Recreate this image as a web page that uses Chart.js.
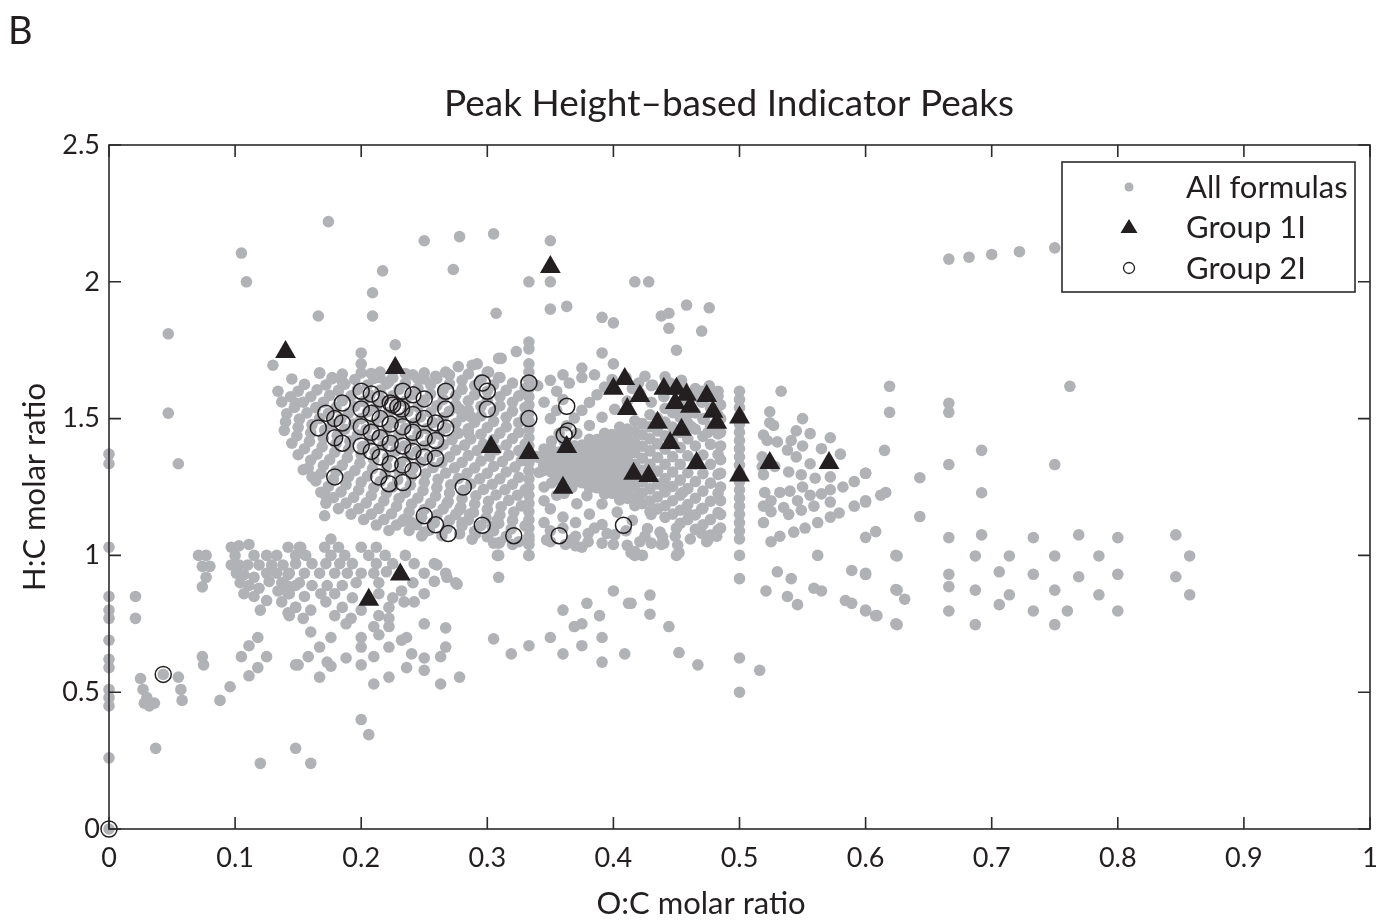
<!DOCTYPE html>
<html>
<head>
<meta charset="utf-8">
<script src="https://cdn.jsdelivr.net/npm/chart.js@4.4.1/dist/chart.umd.min.js"></script>
<style>
  html, body { margin: 0; padding: 0; background: #ffffff; }
</style>
</head>
<body>
<canvas id="vk-canvas" width="1382" height="924"></canvas>
<script>
    // Van Krevelen style plot: O:C vs H:C
    let chart_title = 'Peak Height\u2013based Indicator Peaks';
    let panel_letter = 'B';
    let x_label = 'O:C molar ratio';
    let y_label = 'H:C molar ratio';
    let x_ticks = [0, 0.1, 0.2, 0.3, 0.4, 0.5, 0.6, 0.7, 0.8, 0.9, 1];
    let y_ticks = [0, 0.5, 1, 1.5, 2, 2.5];
    let series_names = ['All formulas', 'Group 1I', 'Group 2I'];

    // All formulas (grey) as [O:C, H:C]
    let all_formulas = [
      // on the y axis and far left
      [0,1.37],[0,1.335],[0,1.03],[0,0.85],[0,0.80],[0,0.77],[0,0.69],[0,0.62],[0,0.59],[0,0.51],[0,0.48],[0,0.45],[0,0.26],[0,0],
      [0.021,0.85],[0.021,0.77],[0.025,0.55],[0.027,0.51],[0.03,0.48],[0.028,0.46],[0.032,0.45],[0.036,0.46],[0.043,0.565],
      [0.055,0.555],[0.057,0.51],[0.058,0.47],[0.074,0.63],[0.075,0.60],[0.088,0.47],[0.096,0.52],[0.105,0.63],[0.111,0.67],
      [0.118,0.70],[0.111,0.56],[0.118,0.59],[0.125,0.63],[0.037,0.295],[0.12,0.24],[0.148,0.295],[0.148,0.60],[0.16,0.24],
      [0.071,1.0],[0.077,1.0],[0.074,0.96],[0.08,0.96],[0.077,0.92],[0.074,0.885],
      [0.047,1.81],[0.047,1.52],[0.055,1.335],
      // lower left cluster
      [0.097,1.03],[0.103,1.035],[0.111,1.04],[0.097,0.965],[0.1,1.0],[0.103,0.965],[0.115,1.0],[0.11,0.965],[0.101,0.935],
      [0.107,0.93],[0.115,0.92],[0.104,0.9],[0.111,0.89],[0.119,0.88],[0.107,0.86],[0.115,0.85],[0.125,0.835],[0.12,0.80],
      [0.125,1.0],[0.133,1.0],[0.119,0.965],[0.129,0.965],[0.138,0.965],[0.125,0.935],[0.133,0.935],[0.142,0.93],[0.127,0.905],
      [0.137,0.9],[0.148,0.89],[0.134,0.87],[0.142,0.86],[0.137,0.83],[0.142,0.79],[0.148,0.81],[0.142,1.03],[0.151,1.03],[0.148,1.0],
      [0.152,1.03],[0.176,1.06],[0.171,1.03],[0.182,1.03],[0.2,1.03],[0.212,1.03],
      [0.156,1.0],[0.176,1.0],[0.187,1.0],[0.206,1.0],[0.219,1.0],[0.235,1.0],
      [0.148,0.97],[0.161,0.97],[0.172,0.97],[0.183,0.97],[0.193,0.97],[0.212,0.97],[0.225,0.97],[0.242,0.97],[0.258,0.97],
      [0.143,0.935],[0.155,0.935],[0.167,0.935],[0.179,0.935],[0.189,0.935],[0.2,0.935],[0.21,0.935],[0.22,0.94],[0.25,0.935],
      [0.267,0.935],[0.275,0.9],[0.141,0.89],[0.151,0.9],[0.161,0.89],[0.173,0.89],[0.185,0.89],[0.196,0.9],[0.214,0.9],[0.241,0.9],
      [0.258,0.905],[0.143,0.86],[0.155,0.85],[0.168,0.86],[0.179,0.86],[0.193,0.845],[0.214,0.86],[0.225,0.845],[0.232,0.87],
      [0.25,0.86],[0.148,0.81],[0.16,0.80],[0.172,0.83],[0.185,0.81],[0.2,0.80],[0.222,0.81],[0.234,0.83],[0.242,0.83],
      [0.143,0.78],[0.154,0.77],[0.179,0.78],[0.192,0.77],[0.214,0.78],[0.222,0.77],[0.276,0.895],[0.268,0.92],[0.26,0.965],
      [0.16,0.72],[0.176,0.70],[0.188,0.75],[0.2,0.70],[0.21,0.74],[0.214,0.71],[0.222,0.74],[0.232,0.69],[0.236,0.70],
      [0.25,0.75],[0.267,0.735],[0.167,0.665],[0.2,0.665],[0.222,0.665],[0.267,0.665],[0.158,0.63],[0.173,0.61],[0.188,0.625],
      [0.21,0.63],[0.24,0.64],[0.25,0.625],[0.263,0.63],[0.15,0.60],[0.176,0.595],[0.2,0.60],[0.236,0.59],[0.25,0.58],
      [0.167,0.555],[0.222,0.555],[0.278,0.555],[0.21,0.53],[0.263,0.53],[0.2,0.40],[0.206,0.345],
      // sparse points above the main cloud
      [0.174,2.22],[0.105,2.105],[0.109,2.0],[0.25,2.15],[0.278,2.165],[0.305,2.175],[0.217,2.04],[0.273,2.045],[0.209,1.96],
      [0.209,1.875],[0.166,1.875],[0.307,1.885],[0.227,1.77],[0.13,1.695],[0.134,1.60],[0.148,1.557],
      [0.35,2.15],[0.333,2.0],[0.35,2.0],[0.35,1.90],[0.363,1.91],[0.391,1.87],[0.40,1.85],[0.417,2.0],[0.428,2.0],
      [0.438,1.875],[0.444,1.885],[0.458,1.915],[0.476,1.905],[0.444,1.83],[0.47,1.82],[0.45,1.75],[0.391,1.74],[0.40,1.70],
      [0.375,1.685],[0.333,1.755],[0.333,1.78],[0.323,1.745],[0.311,1.72],[0.292,1.70],[0.2,1.74],[0.2,1.70],[0.309,1.72],
      [0.454,1.64],[0.476,1.62],[0.533,1.60],
      // left wing of the main cloud
      [0.167,1.667],[0.177,1.65],[0.185,1.635],[0.208,1.665],[0.215,1.65],[0.222,1.635],[0.241,1.66],[0.25,1.645],[0.259,1.655],
      [0.267,1.67],[0.277,1.69],[0.288,1.695],[0.301,1.67],[0.309,1.65],[0.278,1.535],[0.287,1.507],[0.285,1.447],
      [0.30,1.67],[0.31,1.65],[0.32,1.63],[0.33,1.61],
      [0.285,1.663],[0.295,1.643],[0.305,1.623],[0.315,1.603],[0.325,1.583],
      [0.27,1.66],[0.28,1.64],[0.29,1.62],[0.30,1.60],[0.31,1.58],[0.32,1.56],[0.33,1.54],
      [0.25,1.667],[0.26,1.647],[0.27,1.627],[0.28,1.607],[0.29,1.587],[0.30,1.567],[0.31,1.547],[0.32,1.527],[0.33,1.507],
      [0.235,1.665],[0.245,1.645],[0.255,1.625],[0.265,1.605],[0.275,1.585],[0.285,1.565],[0.295,1.545],[0.305,1.525],[0.315,1.505],[0.325,1.485],
      [0.215,1.67],[0.225,1.65],[0.235,1.63],[0.245,1.61],[0.255,1.59],[0.265,1.57],[0.275,1.55],[0.285,1.53],[0.295,1.51],
      [0.305,1.49],[0.315,1.47],[0.325,1.45],
      [0.20,1.667],[0.21,1.647],[0.22,1.627],[0.23,1.607],[0.24,1.587],[0.25,1.567],[0.26,1.547],[0.27,1.527],[0.28,1.507],[0.29,1.487],
      [0.30,1.467],[0.31,1.447],[0.32,1.427],[0.33,1.407],
      [0.185,1.663],[0.195,1.643],[0.205,1.623],[0.215,1.603],[0.225,1.583],[0.235,1.563],[0.245,1.543],[0.255,1.523],[0.265,1.503],
      [0.275,1.483],[0.285,1.463],[0.295,1.443],[0.305,1.423],[0.315,1.403],[0.325,1.383],
      [0.167,1.666],[0.177,1.646],[0.187,1.626],[0.197,1.606],[0.207,1.586],[0.217,1.566],[0.227,1.546],[0.237,1.526],[0.247,1.506],
      [0.257,1.486],[0.267,1.466],[0.277,1.446],[0.287,1.426],[0.297,1.406],[0.307,1.386],[0.317,1.366],[0.327,1.346],
      [0.172,1.623],[0.182,1.603],[0.192,1.583],[0.202,1.563],[0.212,1.543],[0.222,1.523],[0.232,1.503],[0.242,1.483],[0.252,1.463],
      [0.262,1.443],[0.272,1.423],[0.282,1.403],[0.292,1.383],[0.302,1.363],[0.312,1.343],[0.322,1.323],
      [0.145,1.645],[0.155,1.625],[0.165,1.605],[0.175,1.585],[0.185,1.565],[0.195,1.545],[0.205,1.525],[0.215,1.505],[0.225,1.485],
      [0.235,1.465],[0.245,1.445],[0.255,1.425],[0.265,1.405],[0.275,1.385],[0.285,1.365],[0.295,1.345],[0.305,1.325],[0.315,1.305],[0.325,1.285],
      [0.15,1.60],[0.16,1.58],[0.17,1.56],[0.18,1.54],[0.19,1.52],[0.20,1.50],[0.21,1.48],[0.22,1.46],[0.23,1.44],[0.24,1.42],
      [0.25,1.40],[0.26,1.38],[0.27,1.36],[0.28,1.34],[0.29,1.32],[0.30,1.30],[0.31,1.28],[0.32,1.26],[0.33,1.24],
      [0.144,1.58],[0.154,1.56],[0.164,1.54],[0.174,1.52],[0.184,1.50],[0.194,1.48],[0.204,1.46],[0.214,1.44],[0.224,1.42],
      [0.234,1.40],[0.244,1.38],[0.254,1.36],[0.264,1.34],[0.274,1.32],[0.284,1.30],[0.294,1.28],[0.304,1.26],[0.314,1.24],[0.324,1.22],
      [0.137,1.561],[0.147,1.541],[0.157,1.521],[0.167,1.501],[0.177,1.481],[0.187,1.461],[0.197,1.441],[0.207,1.421],[0.217,1.401],
      [0.227,1.381],[0.237,1.361],[0.247,1.341],[0.257,1.321],[0.267,1.301],[0.277,1.281],[0.287,1.261],[0.297,1.241],[0.307,1.221],
      [0.317,1.201],[0.327,1.181],
      [0.141,1.518],[0.151,1.498],[0.161,1.478],[0.171,1.458],[0.181,1.438],[0.191,1.418],[0.201,1.398],[0.211,1.378],[0.221,1.358],
      [0.231,1.338],[0.241,1.318],[0.251,1.298],[0.261,1.278],[0.271,1.258],[0.281,1.238],[0.291,1.218],[0.301,1.198],[0.311,1.178],[0.321,1.158],
      [0.14,1.488],[0.15,1.468],[0.16,1.448],[0.17,1.428],[0.18,1.408],[0.19,1.388],[0.20,1.368],[0.21,1.348],[0.22,1.328],
      [0.23,1.308],[0.24,1.288],[0.25,1.268],[0.26,1.248],[0.27,1.228],[0.28,1.208],[0.29,1.188],[0.30,1.168],[0.31,1.148],
      [0.32,1.128],[0.33,1.108],
      [0.139,1.457],[0.149,1.437],[0.159,1.417],[0.169,1.397],[0.179,1.377],[0.189,1.357],[0.199,1.337],[0.209,1.317],[0.219,1.297],
      [0.229,1.277],[0.239,1.257],[0.249,1.237],[0.259,1.217],[0.269,1.197],[0.279,1.177],[0.289,1.157],[0.299,1.137],[0.309,1.117],[0.319,1.097],
      [0.145,1.41],[0.155,1.39],[0.165,1.37],[0.175,1.35],[0.185,1.33],[0.195,1.31],[0.205,1.29],[0.215,1.27],[0.225,1.25],
      [0.235,1.23],[0.245,1.21],[0.255,1.19],[0.265,1.17],[0.275,1.15],[0.285,1.13],[0.295,1.11],[0.305,1.09],[0.315,1.07],[0.325,1.05],
      [0.150,1.368],[0.160,1.348],[0.170,1.328],[0.180,1.308],[0.190,1.288],[0.200,1.268],[0.210,1.248],[0.220,1.228],[0.230,1.208],
      [0.240,1.188],[0.250,1.168],[0.260,1.148],[0.270,1.128],[0.280,1.108],[0.290,1.088],[0.300,1.068],[0.310,1.048],
      [0.158,1.319],[0.168,1.299],[0.178,1.279],[0.188,1.259],[0.198,1.239],[0.208,1.219],[0.218,1.199],[0.228,1.179],[0.238,1.159],
      [0.248,1.139],[0.258,1.119],[0.268,1.099],[0.278,1.079],[0.288,1.059],
      [0.154,1.313],[0.161,1.287],[0.164,1.272],[0.174,1.252],[0.184,1.232],[0.194,1.212],[0.204,1.192],[0.214,1.172],[0.224,1.152],
      [0.234,1.132],[0.244,1.112],[0.254,1.092],[0.264,1.072],
      [0.168,1.231],[0.178,1.211],[0.188,1.191],[0.198,1.171],[0.208,1.151],[0.218,1.131],[0.228,1.111],[0.238,1.091],[0.248,1.071],
      [0.172,1.191],[0.182,1.171],[0.192,1.151],[0.202,1.131],[0.212,1.111],[0.222,1.091],[0.171,1.145],[0.172,1.218],
      [0.25,1.085],[0.233,1.125],[0.268,1.19],[0.278,1.167],[0.286,1.15],[0.304,1.105],[0.309,1.045],[0.308,1.13],
      [0.291,1.08],[0.305,1.045],[0.28,1.12],[0.24,1.12],
      // column at O:C = 1/3
      [0.333,1.70],[0.333,1.67],[0.333,1.64],[0.333,1.61],[0.333,1.58],[0.333,1.55],[0.333,1.52],[0.333,1.49],[0.333,1.46],
      [0.333,1.43],[0.333,1.40],[0.333,1.37],[0.333,1.34],[0.333,1.31],[0.333,1.28],[0.333,1.25],[0.333,1.22],[0.333,1.19],
      [0.333,1.16],[0.333,1.13],[0.333,1.10],[0.333,1.07],[0.333,1.04],[0.333,1.0],
      // right wing of the main cloud
      [0.345,1.356],[0.357,1.378],[0.369,1.401],[0.381,1.424],[0.393,1.446],[0.405,1.469],[0.417,1.492],[0.429,1.514],[0.441,1.537],[0.453,1.56],[0.465,1.582],[0.477,1.605],
      [0.351,1.363],[0.363,1.383],[0.375,1.403],[0.387,1.423],[0.399,1.442],[0.411,1.462],[0.423,1.482],[0.435,1.502],[0.447,1.522],[0.459,1.542],[0.471,1.562],[0.483,1.582],
      [0.345,1.35],[0.357,1.367],[0.369,1.384],[0.381,1.402],[0.393,1.419],[0.405,1.436],[0.417,1.453],[0.429,1.47],[0.441,1.487],[0.453,1.504],[0.465,1.521],[0.477,1.539],
      [0.351,1.355],[0.363,1.369],[0.375,1.383],[0.387,1.398],[0.399,1.412],[0.411,1.426],[0.423,1.441],[0.435,1.455],[0.447,1.469],[0.459,1.484],[0.471,1.498],[0.483,1.513],
      [0.345,1.345],[0.357,1.356],[0.369,1.368],[0.381,1.379],[0.393,1.391],[0.405,1.403],[0.417,1.414],[0.429,1.426],[0.441,1.437],[0.453,1.449],[0.465,1.461],[0.477,1.472],
      [0.351,1.346],[0.363,1.355],[0.375,1.364],[0.387,1.373],[0.399,1.382],[0.411,1.39],[0.423,1.399],[0.435,1.408],[0.447,1.417],[0.459,1.426],[0.471,1.435],[0.483,1.444],
      [0.345,1.339],[0.357,1.345],[0.369,1.351],[0.381,1.357],[0.393,1.363],[0.405,1.37],[0.417,1.376],[0.429,1.382],[0.441,1.388],[0.453,1.394],[0.465,1.40],[0.477,1.406],
      [0.351,1.337],[0.363,1.34],[0.375,1.343],[0.387,1.346],[0.399,1.349],[0.411,1.352],[0.423,1.355],[0.435,1.358],[0.447,1.361],[0.459,1.364],[0.471,1.367],[0.483,1.369],
      [0.345,1.333],[0.357,1.333],[0.369,1.333],[0.381,1.333],[0.393,1.333],[0.405,1.333],[0.417,1.333],[0.429,1.333],[0.441,1.333],[0.453,1.333],[0.465,1.333],[0.477,1.333],
      [0.351,1.329],[0.363,1.326],[0.375,1.323],[0.387,1.32],[0.399,1.317],[0.411,1.314],[0.423,1.311],[0.435,1.308],[0.447,1.305],[0.459,1.302],[0.471,1.299],[0.483,1.296],
      [0.345,1.327],[0.357,1.321],[0.369,1.316],[0.381,1.31],[0.393,1.304],[0.405,1.298],[0.417,1.293],[0.429,1.287],[0.441,1.281],[0.453,1.275],[0.465,1.27],[0.477,1.264],
      [0.351,1.32],[0.363,1.312],[0.375,1.303],[0.387,1.295],[0.399,1.286],[0.411,1.278],[0.423,1.269],[0.435,1.261],[0.447,1.252],[0.459,1.244],[0.471,1.235],[0.483,1.227],
      [0.345,1.322],[0.357,1.31],[0.369,1.299],[0.381,1.288],[0.393,1.277],[0.405,1.265],[0.417,1.254],[0.429,1.243],[0.441,1.232],[0.453,1.22],[0.465,1.209],[0.477,1.198],
      [0.351,1.312],[0.363,1.298],[0.375,1.284],[0.387,1.27],[0.399,1.256],[0.411,1.242],[0.423,1.228],[0.435,1.214],[0.447,1.2],[0.459,1.186],[0.471,1.172],[0.483,1.157],
      [0.345,1.316],[0.357,1.299],[0.369,1.283],[0.381,1.266],[0.393,1.249],[0.405,1.232],[0.417,1.215],[0.429,1.199],[0.441,1.182],[0.453,1.165],[0.465,1.148],[0.477,1.131],
      [0.351,1.304],[0.363,1.285],[0.375,1.266],[0.387,1.247],[0.399,1.227],[0.411,1.208],[0.423,1.189],[0.435,1.17],[0.447,1.151],[0.459,1.131],[0.471,1.112],[0.483,1.093],
      [0.345,1.311],[0.357,1.29],[0.369,1.268],[0.381,1.247],[0.393,1.225],[0.405,1.203],[0.417,1.182],[0.429,1.16],[0.441,1.139],[0.453,1.117],[0.465,1.095],[0.477,1.074],
      [0.339,1.361],[0.345,1.389],[0.351,1.418],[0.357,1.446],[0.363,1.474],[0.369,1.502],[0.375,1.53],[0.381,1.559],[0.387,1.587],[0.393,1.615],[0.399,1.643],
      [0.341,1.357],[0.351,1.386],[0.361,1.416],[0.371,1.445],[0.381,1.475],[0.391,1.505],[0.401,1.534],[0.411,1.564],[0.421,1.593],[0.431,1.623],[0.441,1.653],
      [0.341,1.303],[0.351,1.265],[0.361,1.227],[0.371,1.189],[0.381,1.151],[0.391,1.113],[0.401,1.075],[0.411,1.037],[0.417,1.014],
      [0.343,1.308],[0.355,1.278],[0.367,1.248],[0.379,1.218],[0.391,1.188],[0.403,1.158],[0.415,1.128],[0.427,1.098],[0.439,1.068],[0.451,1.038],
      [0.42,1.63],[0.43,1.62],[0.455,1.62],[0.465,1.61],[0.483,1.60],[0.46,1.58],[0.47,1.56],[0.485,1.55],[0.485,1.50],[0.485,1.45],
      [0.485,1.40],[0.485,1.35],[0.485,1.30],[0.485,1.25],[0.485,1.20],[0.485,1.15],[0.485,1.10],[0.44,1.25],[0.455,1.23],[0.46,1.15],
      [0.47,1.17],[0.45,1.10],[0.43,1.15],[0.42,1.20],[0.36,1.66],[0.35,1.64],[0.34,1.62],
      [0.345,1.56],[0.355,1.60],[0.365,1.63],[0.375,1.65],[0.385,1.66],[0.41,1.65],[0.415,1.61],[0.425,1.655],[0.445,1.63],[0.455,1.60],
      [0.47,1.60],[0.44,1.58],[0.43,1.56],[0.45,1.54],[0.46,1.52],[0.472,1.50],[0.475,1.45],[0.462,1.47],[0.35,1.50],[0.355,1.53],[0.36,1.57],
      [0.425,1.07],[0.437,1.085],[0.449,1.07],[0.461,1.06],[0.47,1.08],[0.482,1.07],[0.41,1.09],[0.395,1.08],[0.385,1.10],[0.37,1.12],
      [0.36,1.14],[0.35,1.17],[0.36,1.10],[0.37,1.07],[0.35,1.09],[0.345,1.12],[0.345,1.20],[0.345,1.25],[0.355,1.22],[0.35,1.05],
      [0.362,1.04],[0.375,1.03],
      // lower edge of the main cloud
      [0.32,1.04],[0.333,1.057],[0.347,1.057],[0.367,1.057],[0.37,1.035],[0.38,1.05],[0.38,1.08],[0.391,1.045],[0.40,1.04],[0.414,1.01],
      [0.417,1.0],[0.423,1.0],[0.421,1.05],[0.43,1.045],[0.438,1.04],[0.44,1.045],[0.45,1.0],[0.452,1.01],[0.474,1.05],[0.475,1.057],
      [0.309,1.0],[0.309,0.92],[0.308,1.0],[0.333,1.0],
      // column at O:C = 0.5
      [0.5,1.60],[0.5,1.57],[0.5,1.54],[0.5,1.51],[0.5,1.48],[0.5,1.45],[0.5,1.42],[0.5,1.39],[0.5,1.36],[0.5,1.33],[0.5,1.30],
      [0.5,1.27],[0.5,1.24],[0.5,1.21],[0.5,1.18],[0.5,1.15],[0.5,1.12],[0.5,1.09],[0.5,1.06],[0.5,1.0],[0.5,0.915],[0.5,0.625],[0.5,0.50],
      // fan between 0.5 and 0.62
      [0.524,1.525],[0.524,1.485],[0.527,1.475],[0.55,1.50],[0.545,1.455],[0.556,1.445],[0.572,1.43],[0.541,1.42],[0.55,1.40],
      [0.519,1.44],[0.522,1.42],[0.53,1.415],[0.565,1.39],[0.58,1.37],[0.538,1.385],[0.545,1.36],[0.556,1.335],[0.518,1.36],
      [0.518,1.325],[0.519,1.295],[0.528,1.325],[0.539,1.305],[0.549,1.295],[0.56,1.282],[0.572,1.287],[0.582,1.25],[0.591,1.27],
      [0.6,1.30],[0.52,1.23],[0.525,1.2],[0.519,1.18],[0.525,1.16],[0.519,1.12],[0.532,1.23],[0.54,1.235],[0.55,1.25],[0.535,1.175],
      [0.546,1.2],[0.556,1.22],[0.565,1.225],[0.572,1.24],[0.539,1.15],[0.549,1.165],[0.559,1.18],[0.572,1.195],[0.579,1.155],
      [0.591,1.18],[0.6,1.195],[0.543,1.085],[0.552,1.1],[0.562,1.12],[0.572,1.14],[0.525,1.05],[0.532,1.07],[0.562,1.0],
      [0.53,0.94],[0.541,0.915],[0.589,0.945],[0.6,0.935],[0.521,0.87],[0.538,0.85],[0.546,0.82],[0.559,0.88],[0.565,0.87],
      [0.584,0.835],[0.589,0.825],[0.6,0.80],[0.609,0.78],[0.624,1.0],[0.624,0.875],[0.624,0.75],[0.516,0.58],
      // scattered points below the main cloud
      [0.467,0.60],[0.452,0.645],[0.444,0.74],[0.429,0.855],[0.429,0.785],[0.412,0.825],[0.414,0.825],[0.40,0.87],[0.409,0.64],
      [0.391,0.70],[0.391,0.61],[0.389,0.78],[0.379,0.825],[0.375,0.67],[0.369,0.74],[0.375,0.75],[0.36,0.80],[0.36,0.64],
      [0.35,0.70],[0.333,0.67],[0.319,0.64],[0.305,0.695],
      // right part of the plot
      [0.666,2.083],[0.682,2.09],[0.70,2.10],[0.722,2.11],[0.75,2.124],
      [0.619,1.618],[0.619,1.523],[0.666,1.556],[0.666,1.523],[0.762,1.618],[0.615,1.384],[0.692,1.384],[0.666,1.332],[0.75,1.332],
      [0.6,1.30],[0.643,1.284],[0.612,1.22],[0.616,1.23],[0.6,1.2],[0.692,1.229],[0.643,1.142],[0.608,1.087],[0.6,1.066],
      [0.666,1.065],[0.692,1.075],[0.733,1.065],[0.769,1.075],[0.80,1.065],[0.846,1.075],
      [0.625,0.998],[0.687,0.998],[0.714,0.998],[0.75,0.998],[0.785,0.998],[0.857,0.998],
      [0.6,0.93],[0.666,0.931],[0.706,0.94],[0.733,0.931],[0.769,0.922],[0.80,0.931],[0.846,0.922],
      [0.666,0.886],[0.625,0.873],[0.631,0.84],[0.687,0.873],[0.714,0.856],[0.75,0.873],[0.785,0.856],[0.857,0.856],
      [0.706,0.82],[0.6,0.797],[0.608,0.78],[0.625,0.747],[0.666,0.797],[0.687,0.747],[0.733,0.797],[0.75,0.747],[0.76,0.797],[0.80,0.797]
    ];

    // Group 1I (black triangles)
    let group_1i = [
      [0.140,1.743],[0.227,1.685],[0.350,2.054],[0.303,1.396],[0.333,1.374],[0.363,1.396],[0.360,1.247],[0.400,1.609],
      [0.409,1.645],[0.421,1.583],[0.411,1.535],[0.440,1.609],[0.450,1.609],[0.458,1.587],[0.449,1.557],[0.461,1.543],
      [0.474,1.583],[0.479,1.525],[0.482,1.485],[0.435,1.485],[0.454,1.459],[0.445,1.411],[0.466,1.338],[0.416,1.298],
      [0.428,1.290],[0.5,1.504],[0.5,1.292],[0.524,1.338],[0.571,1.338],[0.231,0.930],[0.206,0.838]
    ];

    // Group 2I (open circles)
    let group_2i = [
      [0.2,1.60],[0.208,1.59],[0.215,1.572],[0.223,1.557],[0.225,1.55],[0.229,1.543],[0.232,1.535],[0.233,1.60],[0.241,1.587],
      [0.25,1.572],[0.267,1.60],[0.267,1.535],[0.296,1.63],[0.30,1.60],[0.30,1.535],[0.185,1.557],[0.2,1.535],[0.208,1.52],
      [0.215,1.50],[0.223,1.48],[0.233,1.47],[0.241,1.515],[0.25,1.50],[0.259,1.484],[0.267,1.466],[0.172,1.52],[0.179,1.50],
      [0.185,1.484],[0.166,1.466],[0.2,1.47],[0.208,1.45],[0.215,1.43],[0.223,1.41],[0.233,1.40],[0.241,1.45],[0.25,1.43],
      [0.259,1.42],[0.179,1.43],[0.185,1.41],[0.2,1.40],[0.208,1.38],[0.215,1.36],[0.223,1.335],[0.233,1.33],[0.241,1.38],
      [0.25,1.36],[0.259,1.355],[0.241,1.31],[0.214,1.287],[0.222,1.262],[0.233,1.266],[0.179,1.287],[0.25,1.145],[0.259,1.112],
      [0.269,1.08],[0.281,1.25],[0.296,1.11],[0.333,1.63],[0.333,1.5],[0.363,1.545],[0.361,1.44],[0.364,1.455],[0.321,1.072],
      [0.357,1.072],[0.408,1.11],[0.043,0.565],[0,0]
    ];

    let to_points = function(arr) {
      return arr.map(p => ({x: p[0], y: p[1]}));
    };

    let ink = '#231f20';
    let grey = '#b1b2b6';
    let font_family = 'Lato, "Noto Sans", sans-serif';

    // frame with inward ticks on all four sides, like the original figure
    let frame_plugin = {
      id: 'frame_plugin',
      afterDatasetsDraw(chart) {
        let ctx = chart.ctx;
        let a = chart.chartArea;
        let xs = chart.scales.x;
        let ys = chart.scales.y;
        let tick_len = 12;
        ctx.save();
        ctx.strokeStyle = '#2b2b2b';
        ctx.lineWidth = 1.6;
        ctx.strokeRect(a.left, a.top, a.right - a.left, a.bottom - a.top);
        ctx.beginPath();
        x_ticks.forEach(v => {
          let p = xs.getPixelForValue(v);
          ctx.moveTo(p, a.bottom); ctx.lineTo(p, a.bottom - tick_len);
          ctx.moveTo(p, a.top); ctx.lineTo(p, a.top + tick_len);
        });
        y_ticks.forEach(v => {
          let p = ys.getPixelForValue(v);
          ctx.moveTo(a.left, p); ctx.lineTo(a.left + tick_len, p);
          ctx.moveTo(a.right, p); ctx.lineTo(a.right - tick_len, p);
        });
        ctx.stroke();
        ctx.restore();
      }
    };

    // title, panel letter, x label and boxed legend in the top right corner
    let text_plugin = {
      id: 'text_plugin',
      afterDraw(chart) {
        let ctx = chart.ctx;
        let a = chart.chartArea;
        ctx.save();
        ctx.fillStyle = ink;
        ctx.textBaseline = 'middle';
        ctx.font = '38px ' + font_family;
        ctx.textAlign = 'left';
        ctx.fillText(panel_letter, 8, 32);
        ctx.font = '37px ' + font_family;
        ctx.textAlign = 'center';
        ctx.fillText(chart_title, 729, 104);
        ctx.font = '31px ' + font_family;
        ctx.fillText(x_label, 701, 904);

        // legend
        let bx = a.right - 308, by = a.top + 17, bw = 293, bh = 130;
        ctx.fillStyle = '#ffffff';
        ctx.fillRect(bx, by, bw, bh);
        ctx.strokeStyle = '#2b2b2b';
        ctx.lineWidth = 1.6;
        ctx.strokeRect(bx, by, bw, bh);
        let mx = bx + 67;
        let rows = [by + 25, by + 65, by + 106];
        // grey dot
        ctx.fillStyle = grey;
        ctx.beginPath(); ctx.arc(mx, rows[0], 4.5, 0, Math.PI * 2); ctx.fill();
        // triangle
        ctx.fillStyle = ink;
        ctx.beginPath();
        ctx.moveTo(mx, rows[1] - 8); ctx.lineTo(mx + 8.5, rows[1] + 6); ctx.lineTo(mx - 8.5, rows[1] + 6);
        ctx.closePath(); ctx.fill();
        // open circle
        ctx.strokeStyle = ink;
        ctx.lineWidth = 1.3;
        ctx.beginPath(); ctx.arc(mx, rows[2], 5.5, 0, Math.PI * 2); ctx.stroke();
        ctx.fillStyle = ink;
        ctx.font = '31px ' + font_family;
        ctx.textAlign = 'left';
        series_names.forEach((s, i) => ctx.fillText(s, bx + 124, rows[i] + 1));
        ctx.restore();
      }
    };

    let vk_ctx = document.getElementById('vk-canvas').getContext('2d');
    let vk_chart = new Chart(vk_ctx, {
      type: 'scatter',
      data: {
        datasets: [
          {
            label: series_names[0],
            data: to_points(all_formulas),
            pointStyle: 'circle',
            pointRadius: 5.8,
            pointBackgroundColor: grey,
            pointBorderWidth: 0,
            pointBorderColor: grey,
            clip: false,
            order: 3
          },
          {
            label: series_names[1],
            data: to_points(group_1i),
            pointStyle: 'triangle',
            pointRadius: 12,
            pointBackgroundColor: ink,
            pointBorderColor: ink,
            pointBorderWidth: 0,
            clip: false,
            order: 2
          },
          {
            label: series_names[2],
            data: to_points(group_2i),
            pointStyle: 'circle',
            pointRadius: 8,
            pointBackgroundColor: 'rgba(0,0,0,0)',
            pointBorderColor: ink,
            pointBorderWidth: 1.5,
            clip: false,
            order: 1
          }
        ]
      },
      options: {
        responsive: false,
        animation: false,
        layout: { padding: { top: 145, right: 10, left: 0, bottom: 0 } },
        plugins: {
          legend: { display: false },
          tooltip: { enabled: false },
          title: { display: false }
        },
        scales: {
          x: {
            type: 'linear',
            min: 0,
            max: 1,
            afterFit: s => { s.height = 95; s.paddingRight = 0; s.paddingLeft = 0; },
            afterBuildTicks: s => { s.ticks = x_ticks.map(v => ({value: v})); },
            grid: { display: false, drawTicks: false },
            border: { display: false },
            ticks: { color: ink, font: { family: font_family, size: 27 }, padding: 13, maxRotation: 0, callback: v => String(v) }
          },
          y: {
            type: 'linear',
            min: 0,
            max: 2.5,
            afterFit: s => { s.width = 109; },
            afterBuildTicks: s => { s.ticks = y_ticks.map(v => ({value: v})); },
            grid: { display: false, drawTicks: false },
            border: { display: false },
            ticks: { color: ink, font: { family: font_family, size: 27 }, padding: 9, callback: v => String(v) },
            title: { display: true, text: y_label, color: ink, font: { family: font_family, size: 31 }, padding: { top: 16, bottom: 0 } }
          }
        }
      },
      plugins: [frame_plugin, text_plugin]
    });
</script>
</body>
</html>
